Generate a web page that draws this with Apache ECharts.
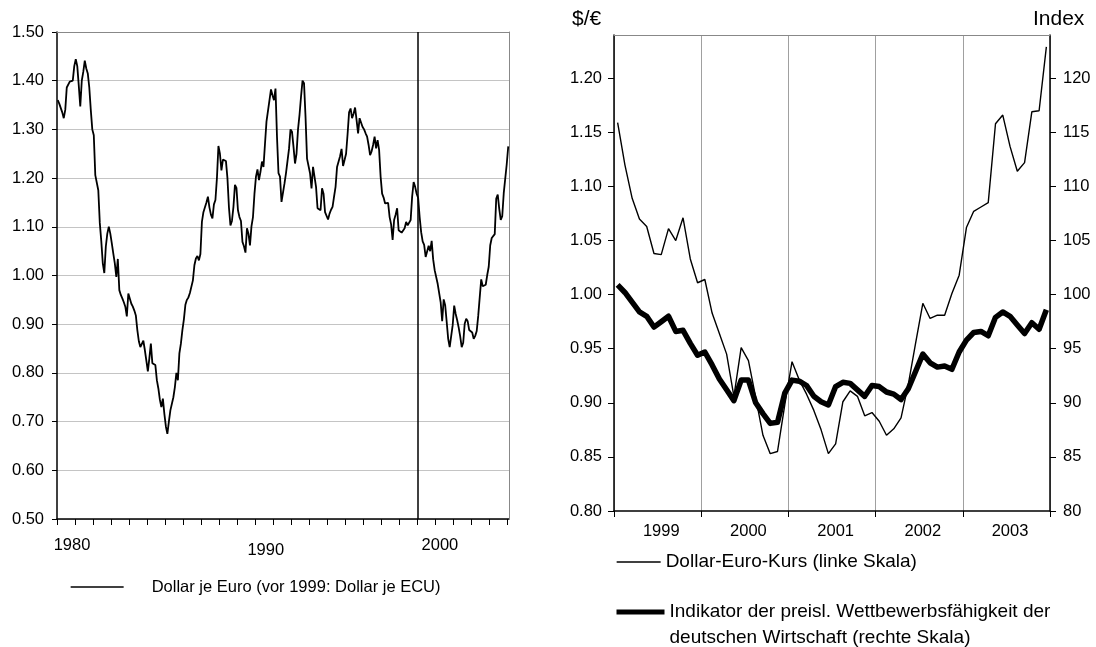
<!DOCTYPE html>
<html>
<head>
<meta charset="utf-8">
<script src="https://cdn.jsdelivr.net/npm/echarts@6/dist/echarts.min.js"></script>
<style>
  html, body { margin: 0; padding: 0; background: #fff; }
  #chart { width: 1096px; height: 647px; }
</style>
</head>
<body>
<div id="chart"></div>
<script>
// Dollar je ECU, Monatswerte Jan 1979 - Dez 1986
var ecu1979to1986 = [
  1.36, 1.353, 1.35, 1.335, 1.323, 1.34, 1.386, 1.385, 1.398, 1.396, 1.40, 1.43,
  1.444, 1.43, 1.39, 1.347, 1.40, 1.418, 1.441, 1.425, 1.415, 1.386, 1.34, 1.30,
  1.288, 1.206, 1.206, 1.175, 1.108, 1.07, 1.025, 1.005, 1.059, 1.086, 1.10, 1.086,
  1.066, 1.045, 1.025, 0.997, 1.034, 0.97, 0.96, 0.953, 0.945, 0.936, 0.916, 0.963,
  0.96, 0.942, 0.936, 0.928, 0.918, 0.888, 0.865, 0.853, 0.853, 0.866, 0.847, 0.825,
  0.803, 0.83, 0.86, 0.82, 0.818, 0.816, 0.785, 0.768, 0.745, 0.73, 0.747, 0.716,
  0.69, 0.675, 0.70, 0.723, 0.727, 0.75, 0.771, 0.80, 0.785, 0.84, 0.86, 0.888,
  0.91, 0.94, 0.95, 0.955, 0.964, 0.968, 0.99, 1.021, 1.035, 1.04, 1.031, 1.044
];
// Jan 1987 - Dez 1994
var ecu1987to1994 = [
  1.11, 1.13, 1.134, 1.15, 1.162, 1.14, 1.125, 1.117, 1.146, 1.155, 1.20, 1.266,
  1.25, 1.216, 1.238, 1.242, 1.235, 1.20, 1.14, 1.103, 1.112, 1.141, 1.186, 1.18,
  1.134, 1.12, 1.112, 1.069, 1.06, 1.047, 1.097, 1.086, 1.062, 1.101, 1.12, 1.168,
  1.203, 1.218, 1.196, 1.213, 1.234, 1.223, 1.27, 1.316, 1.314, 1.36, 1.382, 1.37,
  1.36, 1.384, 1.285, 1.21, 1.203, 1.151, 1.148, 1.189, 1.21, 1.213, 1.26, 1.30,
  1.295, 1.264, 1.23, 1.25, 1.30, 1.33, 1.367, 1.40, 1.395, 1.326, 1.24, 1.237,
  1.21, 1.179, 1.223, 1.22, 1.182, 1.138, 1.136, 1.134, 1.179, 1.168, 1.13, 1.13,
  1.115, 1.127, 1.135, 1.141, 1.162, 1.182, 1.223, 1.227, 1.245, 1.26, 1.225, 1.237
];
// Jan 1995 - Dez 1998
var ecu1995to1998 = [
  1.25, 1.29, 1.335, 1.343, 1.323, 1.332, 1.345, 1.319, 1.292, 1.323, 1.323, 1.305,
  1.30, 1.292, 1.285, 1.268, 1.247, 1.255, 1.268, 1.285, 1.261, 1.278, 1.258, 1.203,
  1.168, 1.16, 1.148, 1.148, 1.149, 1.12, 1.105, 1.073, 1.114, 1.125, 1.138, 1.093,
  1.09, 1.088, 1.086, 1.097, 1.11, 1.103, 1.10, 1.114, 1.162, 1.192, 1.182, 1.168
];
// Dollar je Euro, Jan 1999 - Dez 2003 (linke Grafik und duenne Linie rechts)
var euro1999to2003 = [
  1.159, 1.120, 1.089, 1.070, 1.063, 1.038, 1.037, 1.061, 1.050, 1.071, 1.033, 1.011,
  1.014, 0.983, 0.964, 0.945, 0.906, 0.951, 0.939, 0.905, 0.870, 0.853, 0.855, 0.898,
  0.938, 0.921, 0.908, 0.893, 0.875, 0.853, 0.862, 0.901, 0.911, 0.906, 0.888, 0.891,
  0.883, 0.870, 0.876, 0.886, 0.917, 0.955, 0.992, 0.978, 0.981, 0.981, 1.001, 1.018,
  1.062, 1.077, 1.081, 1.085, 1.158, 1.166, 1.137, 1.114, 1.122, 1.169, 1.170, 1.229
];
var euroJan2004 = [1.265];
// Indikator der preisl. Wettbewerbsfaehigkeit, Jan 1999 - Dez 2003
var indikator1999to2003 = [
  100.9, 100.2, 99.3, 98.4, 98.0, 97.0, 97.5, 98.0, 96.6, 96.7, 95.5, 94.4,
  94.7, 93.5, 92.2, 91.2, 90.2, 92.1, 92.1, 90.0, 89.0, 88.1, 88.2, 90.9,
  92.1, 92.0, 91.6, 90.6, 90.1, 89.8, 91.5, 91.9, 91.8, 91.2, 90.6, 91.6,
  91.5, 91.0, 90.8, 90.3, 91.3, 92.9, 94.5, 93.7, 93.3, 93.4, 93.1, 94.7,
  95.8, 96.5, 96.6, 96.2, 97.9, 98.4, 98.0, 97.2, 96.4, 97.4, 96.8, 98.6
];
var leftYearLabels = ['1980', '1990', '2000'];
var rightYears = ['1999', '2000', '2001', '2002', '2003'];

var leftName = 'Dollar je Euro (vor 1999: Dollar je ECU)';
var thinName = 'Dollar-Euro-Kurs (linke Skala)';
var thickName = 'Indikator der preisl. Wettbewerbsfähigkeit der deutschen Wirtschaft (rechte Skala)';

// monthly series, x = months since Jan 1979 (point in the middle of the month)
var leftValues = ecu1979to1986.concat(ecu1987to1994, ecu1995to1998, euro1999to2003, euroJan2004);
var leftData = leftValues.map(function (v, m) { return [m + 0.5, v]; });

var months = [];
rightYears.forEach(function (y) {
  for (var m = 1; m <= 12; m++) months.push(y + '-' + (m < 10 ? '0' + m : m));
});

var yearTicks = [];
for (var t = 0; t <= 300; t += 12) yearTicks.push(t);
var leftLabelPos = [10, 139, 255];

var font = 'Liberation Sans, Arial, sans-serif';
var black = '#000';
var noSymbol = { color: 'transparent', borderColor: 'transparent', borderWidth: 0, opacity: 0 };

var myChart = echarts.init(document.getElementById('chart'));
var option = {
  animation: false,
  textStyle: { fontFamily: font, color: black },
  grid: [
    { left: 57, top: 32, width: 452, height: 487 },
    { left: 614, top: 35, width: 436, height: 476 }
  ],
  xAxis: [
    {
      gridIndex: 0, type: 'value', min: 0, max: 301,
      axisLine: { onZero: false, lineStyle: { color: black, width: 1.5 } },
      axisTick: { show: true, customValues: yearTicks, length: 6, lineStyle: { color: black } },
      axisLabel: {
        customValues: leftLabelPos, margin: 18, fontSize: 16.5, color: black,
        formatter: function (v) {
          var i = leftLabelPos.indexOf(v);
          if (i < 0) return '';
          return i === 1 ? '{lo|' + leftYearLabels[i] + '}' : leftYearLabels[i];
        },
        rich: { lo: { fontSize: 16.5, color: black, padding: [5, 0, 0, 0] } }
      },
      splitLine: { show: false }
    },
    {
      gridIndex: 0, type: 'value', position: 'top', min: 0, max: 301, z: 1,
      axisLine: { onZero: false, lineStyle: { color: '#888', width: 1 } },
      axisTick: { show: false }, axisLabel: { show: false }, splitLine: { show: false }
    },
    {
      gridIndex: 1, type: 'category', data: months, boundaryGap: true,
      axisLine: { onZero: false, lineStyle: { color: black, width: 1.5 } },
      axisTick: { show: true, interval: 11, length: 6, lineStyle: { color: black } },
      axisLabel: {
        interval: function (i) { return i % 12 === 6; },
        formatter: function (v) { return v.slice(0, 4); },
        margin: 12, fontSize: 16.5, color: black
      },
      splitLine: { show: true, interval: 11, lineStyle: { color: '#a0a0a0', width: 1 } }
    },
    {
      gridIndex: 1, type: 'value', position: 'top', min: 0, max: 1, z: 1,
      axisLine: { onZero: false, lineStyle: { color: '#888', width: 1 } },
      axisTick: { show: false }, axisLabel: { show: false }, splitLine: { show: false }
    }
  ],
  yAxis: [
    {
      gridIndex: 0, type: 'value', min: 0.5, max: 1.5, interval: 0.1,
      axisLine: { show: true, onZero: false, lineStyle: { color: black, width: 1.5 } },
      axisTick: { show: true, length: 5, lineStyle: { color: black } },
      axisLabel: { margin: 13, fontSize: 16.5, color: black, formatter: function (v) { return v.toFixed(2); } },
      splitLine: { show: true, lineStyle: { color: '#c4c4c4', width: 1 } }
    },
    {
      gridIndex: 0, type: 'value', position: 'right', min: 0, max: 1, z: 1,
      axisLine: { show: true, onZero: false, lineStyle: { color: '#888', width: 1 } },
      axisTick: { show: false }, axisLabel: { show: false }, splitLine: { show: false }
    },
    {
      gridIndex: 1, type: 'value', position: 'left', min: 0.8, max: 1.24,
      axisLine: { show: true, onZero: false, lineStyle: { color: black, width: 1.5 } },
      axisTick: { show: true, length: 6, customValues: [0.8, 0.85, 0.9, 0.95, 1.0, 1.05, 1.1, 1.15, 1.2], lineStyle: { color: black } },
      axisLabel: {
        customValues: [0.8, 0.85, 0.9, 0.95, 1.0, 1.05, 1.1, 1.15, 1.2],
        margin: 12, fontSize: 16.5, color: black,
        formatter: function (v) { return v.toFixed(2); }
      },
      splitLine: { show: false }
    },
    {
      gridIndex: 1, type: 'value', position: 'right', min: 80, max: 124,
      axisLine: { show: true, onZero: false, lineStyle: { color: black, width: 1.5 } },
      axisTick: { show: true, length: 6, customValues: [80, 85, 90, 95, 100, 105, 110, 115, 120], lineStyle: { color: black } },
      axisLabel: { customValues: [80, 85, 90, 95, 100, 105, 110, 115, 120], margin: 13, fontSize: 16.5, color: black },
      splitLine: { show: false }
    }
  ],
  legend: [
    {
      data: [leftName], left: 70, top: 577, padding: 0, selectedMode: false,
      itemWidth: 53, itemHeight: 14, lineStyle: { width: 1.3 }, itemStyle: noSymbol,
      textStyle: { fontSize: 16.5, color: black, lineHeight: 20, padding: [0, 0, 0, 23] }
    },
    {
      data: [thinName], left: 616, top: 551, padding: 0, selectedMode: false,
      itemWidth: 44, itemHeight: 14, lineStyle: { width: 1.3 }, itemStyle: noSymbol,
      textStyle: { fontSize: 19, color: black, lineHeight: 22 }
    },
    {
      data: [thickName], left: 614, top: 573, padding: 0, selectedMode: false,
      itemWidth: 48, itemHeight: 14, lineStyle: { width: 5 }, itemStyle: noSymbol,
      // empty first line so that the first text line sits level with the icon
      formatter: function (n) { return '\n' + n.replace(' der deutschen', ' der\ndeutschen'); },
      textStyle: { fontSize: 19, color: black, lineHeight: 26 }
    }
  ],
  graphic: [
    { type: 'text', left: 572, top: 9, style: { text: '$/€', fontSize: 21, fontFamily: font, fill: black } },
    { type: 'text', left: 1033, top: 9, style: { text: 'Index', fontSize: 21, fontFamily: font, fill: black } }
  ],
  series: [
    {
      name: leftName, type: 'line', xAxisIndex: 0, yAxisIndex: 0,
      data: leftData, symbol: 'none', silent: true,
      lineStyle: { color: black, width: 1.8 },
      itemStyle: { color: black },
      markLine: {
        silent: true, symbol: ['none', 'none'], label: { show: false },
        lineStyle: { color: black, width: 1.5, type: 'solid' },
        data: [{ xAxis: 240 }]
      }
    },
    {
      name: thinName, type: 'line', xAxisIndex: 2, yAxisIndex: 2,
      data: euro1999to2003, symbol: 'none', silent: true,
      lineStyle: { color: black, width: 1.4 },
      itemStyle: { color: black }
    },
    {
      name: thickName, type: 'line', xAxisIndex: 2, yAxisIndex: 3,
      data: indikator1999to2003, symbol: 'none', silent: true,
      lineStyle: { color: black, width: 5.5, join: 'round' },
      itemStyle: { color: black }
    }
  ]
};
myChart.setOption(option);
</script>
</body>
</html>
